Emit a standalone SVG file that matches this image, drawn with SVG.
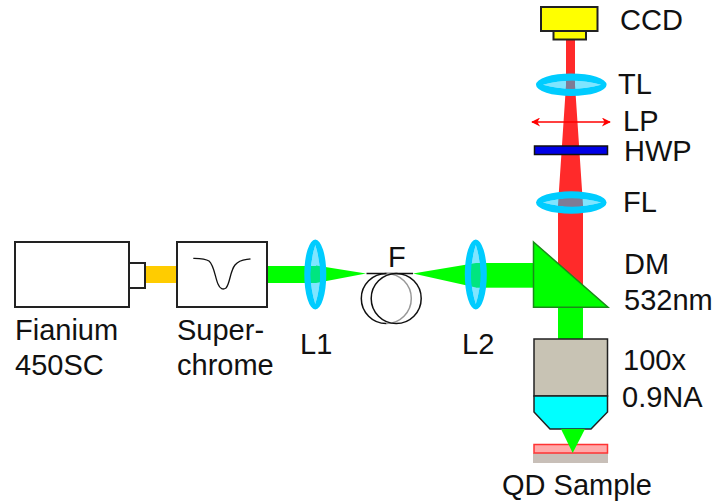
<svg xmlns="http://www.w3.org/2000/svg" width="714" height="502" viewBox="0 0 714 502">
<style>
text{font-family:"Liberation Sans",Arial,sans-serif;font-size:29px;fill:#111}
.box{fill:#fff;stroke:#222;stroke-width:2}
.inner{fill:#00ccff;fill-opacity:.5}
.ring{fill:#00ccff;fill-rule:evenodd}
.red{fill:#ff2a2a}
.green{fill:#00ff00}
.wire{fill:none;stroke:#111;stroke-width:1.5}
</style>
<defs>
<marker id="a" viewBox="0 0 10 10" refX="9" refY="5" markerWidth="11" markerHeight="9" markerUnits="userSpaceOnUse" orient="auto-start-reverse"><path d="M0,0L10,5L0,10L3,5Z" fill="#ff0000"/></marker>
</defs>
<g id="connectors">
<rect x="145" y="266" width="32" height="17" fill="#ffcc00"/>
<path class="green" d="M267,266H316V283H267Z"/>
<path class="green" d="M316,265.500L366,273.500L316,283Z"/>
<path class="green" d="M413,273.500L476,263V287.500Z"/>
<rect class="green" x="476" y="263" width="60" height="24.700"/>
<path class="red" d="M566,39H575V85L583,205V286H558V205L566,85Z"/>
<rect class="green" x="558" y="305" width="25" height="36"/>
</g>
<g id="fianium"><rect class="box" x="15" y="242" width="114" height="65"/><rect class="box" x="129" y="263" width="16" height="25"/><text x="15" y="340">Fianium</text><text x="15" y="375">450SC</text></g>
<g id="superchrome"><rect class="box" x="177" y="242" width="90" height="65"/><path d="M193.300,258.300C200,258.500 205,258.500 209,261C214,265 215,277 218,284C220,289 223,290 226,288C230,284 230,271 235,265C240,259 246,260 250.500,258.800" fill="none" stroke="#111" stroke-width="1.300"/><text x="177" y="340">Super-</text><text x="177" y="375">chrome</text></g>
<g id="l1"><path class="inner" d="M315.300,245Q306,274.500 315.300,304Q324.600,274.500 315.300,245Z"/><path class="ring" d="M315.300,239.500A11,35 0 1 0 315.300,309.500A11,35 0 1 0 315.300,239.500ZM315.300,245Q306,274.500 315.300,304Q324.600,274.500 315.300,245Z"/><text x="300" y="354">L1</text></g>
<g id="fiber"><path class="wire" d="M366.500,273.500H413"/><path d="M386.300,273.500A25,25 0 0 1 386.300,323.500" fill="none" stroke="#999" stroke-width="1.500"/><path class="wire" d="M386.300,273.500A25,25 0 0 0 386.300,323.500"/><circle class="wire" cx="396.200" cy="298.500" r="25"/><text x="388" y="267">F</text></g>
<g id="l2"><path class="inner" d="M475.800,245Q466.500,274.500 475.800,304Q485.100,274.500 475.800,245Z"/><path class="ring" d="M475.800,239.500A11,35 0 1 0 475.800,309.500A11,35 0 1 0 475.800,239.500ZM475.800,245Q466.500,274.500 475.800,304Q485.100,274.500 475.800,245Z"/><text x="462" y="354">L2</text></g>
<g id="ccd"><rect x="541" y="7" width="56.500" height="24" fill="#ffff00" stroke="#222" stroke-width="2"/><rect x="553.500" y="31" width="32.500" height="8.500" fill="#ffff00" stroke="#222" stroke-width="2"/><text x="620" y="30">CCD</text></g>
<g id="tl"><path class="inner" d="M543,84.700Q572,76.700 601,84.700Q572,92.700 543,84.700Z"/><path class="ring" d="M536,84.700A35.300,11.200 0 1 0 606.600,84.700A35.300,11.200 0 1 0 536,84.700ZM543,84.700Q572,76.700 601,84.700Q572,92.700 543,84.700Z"/><text x="618" y="94">TL</text></g>
<g id="lp"><line x1="532" y1="122" x2="610" y2="122" stroke="#ff0000" stroke-width="1.500" marker-start="url(#a)" marker-end="url(#a)"/><text x="623" y="131">LP</text></g>
<g id="hwp"><rect x="534.500" y="146" width="73" height="8.500" fill="#0000e6" stroke="#111" stroke-width="1.500"/><text x="624" y="161">HWP</text></g>
<g id="fl"><path class="inner" d="M543,202.500Q572,194.500 601,202.500Q572,210.500 543,202.500Z"/><path class="ring" d="M536,202.500A35.300,11.200 0 1 0 606.600,202.500A35.300,11.200 0 1 0 536,202.500ZM543,202.500Q572,194.500 601,202.500Q572,210.500 543,202.500Z"/><text x="623" y="212">FL</text></g>
<g id="dm"><path d="M533.500,242L608,307.300H533.500Z" fill="#00ff00" stroke="#1a8a1a" stroke-width="1.500"/><text x="624" y="274">DM</text><text x="624" y="310">532nm</text></g>
<g id="objective"><rect x="534" y="339" width="73.500" height="57" fill="#c8c3b4" stroke="#222" stroke-width="1.500"/><path d="M534,396H607.500V412L591,429H550L534,412Z" fill="#00ffff" stroke="#222" stroke-width="1.500"/><text x="623" y="370">100x</text><text x="622" y="407">0.9NA</text></g>
<g id="sample"><rect x="533" y="453" width="75" height="10" fill="#c8bfb8"/><rect x="534" y="444.500" width="73.500" height="8.500" fill="#ffaaaa" stroke="#ff3333" stroke-width="1.500"/><path class="green" d="M561,429H585L572.700,453Z"/><text x="502" y="495">QD Sample</text></g>
</svg>
